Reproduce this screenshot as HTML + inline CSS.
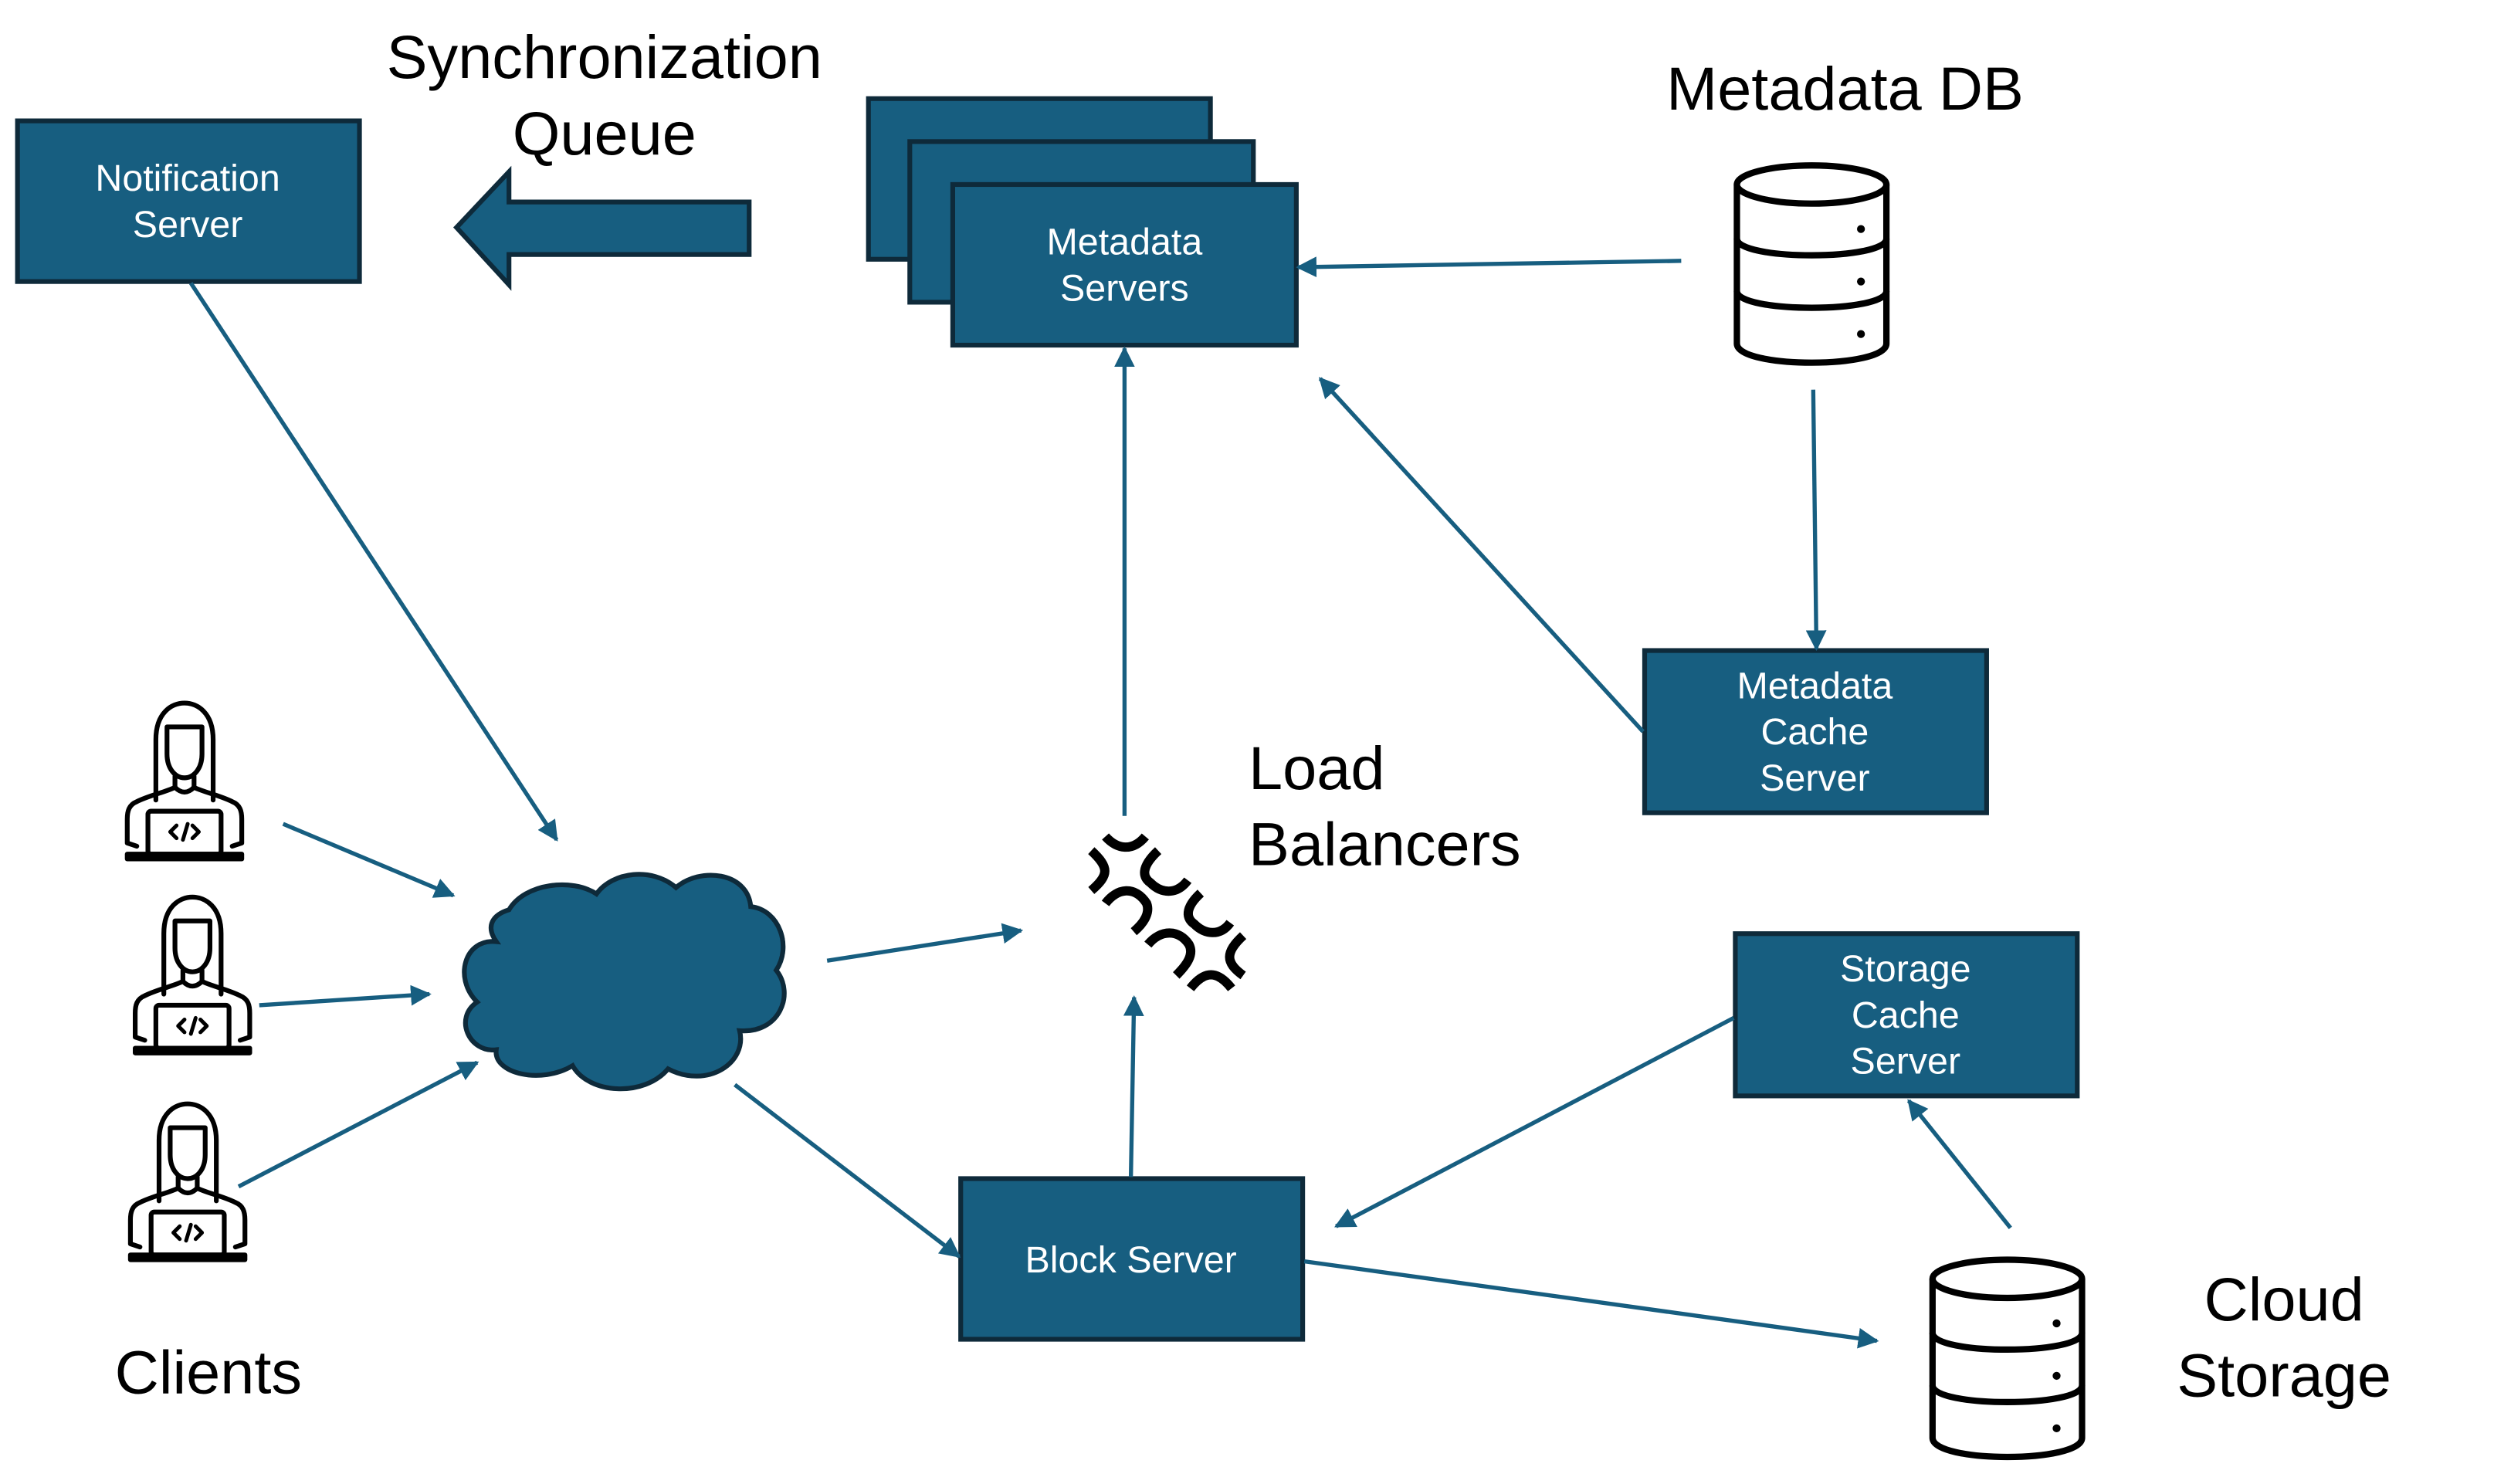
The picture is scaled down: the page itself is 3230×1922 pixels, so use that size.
<!DOCTYPE html>
<html><head><meta charset="utf-8"><style>
html,body{margin:0;padding:0;background:#fff}
svg{display:block}
text{font-family:"Liberation Sans",sans-serif}
</style></head><body>
<svg width="3230" height="1922" viewBox="0 0 1568 933" preserveAspectRatio="none" xmlns="http://www.w3.org/2000/svg">
<defs>
<marker id="a" viewBox="0 0 10 10" refX="9" refY="5" markerWidth="5" markerHeight="5" orient="auto" markerUnits="strokeWidth">
<path d="M0,0 L10,5 L0,10 z" fill="#175E80"/></marker>
<g id="p" fill="none" stroke="#000" stroke-width="3" stroke-linejoin="round" stroke-linecap="round">
<path d="M20,63 L20,25 C20,8 30,2 38,2 C46,2 56,8 56,25 L56,63"/>
<path d="M27,17 L49,17 L49,34 C49,43 44,49 38,49 C32,49 27,43 27,34 Z"/>
<path d="M32,48 L32,55 C26,58 16,60 8,64 C3,66 2,70 2,75 L2,90 L8,92"/>
<path d="M44,48 L44,55 C50,58 60,60 68,64 C73,66 74,70 74,75 L74,90 L68,92"/>
<path d="M32,55 C36,59 40,59 44,55"/>
<rect x="15" y="70" width="46" height="27" rx="2"/>
<path d="M2,97 L74,97 L74,100 L2,100 Z"/>
<path d="M33,79 L29,83 L33,87 M37,88 L40,78 M43,79 L47,83 L43,87" stroke-width="2.4"/>
</g>
<g id="db" fill="#fff" stroke="#000" stroke-width="4">
<path d="M2,14 L2,114 C2,130 96,130 96,114 L96,14"/>
<ellipse cx="49" cy="14" rx="47" ry="12"/>
<path d="M2,48 C2,62 96,62 96,48 M2,81 C2,95 96,95 96,81" fill="none"/>
<circle cx="80" cy="42" r="2.5" fill="#000" stroke="none"/>
<circle cx="80" cy="75" r="2.5" fill="#000" stroke="none"/>
<circle cx="80" cy="108" r="2.5" fill="#000" stroke="none"/>
</g>
</defs>

<g fill="#175E80" stroke="#0E2A3A" stroke-width="3">
<rect x="11" y="76" width="215" height="101"/>
<rect x="546" y="62" width="215" height="101"/>
<rect x="572" y="89" width="216" height="101"/>
<rect x="599" y="116" width="216" height="101"/>
<rect x="1034" y="409" width="215" height="102"/>
<rect x="1091" y="587" width="215" height="102"/>
<rect x="604" y="741" width="215" height="101"/>
</g>
<g fill="#fff" font-size="23.5" text-anchor="middle">
<text x="118" y="120">Notification</text><text x="118" y="149">Server</text>
<text x="707" y="160">Metadata</text><text x="707" y="189">Servers</text>
<text x="1141" y="439">Metadata</text><text x="1141" y="468">Cache</text><text x="1141" y="497">Server</text>
<text x="1198" y="617">Storage</text><text x="1198" y="646">Cache</text><text x="1198" y="675">Server</text>
<text x="711" y="800">Block Server</text>
</g>

<polygon points="287,143 320,108 320,127 471,127 471,160 320,160 320,179" fill="#175E80" stroke="#0E2A3A" stroke-width="3"/>

<g fill="#000" font-size="38.5" text-anchor="middle">
<text x="380" y="49">Synchronization</text><text x="380" y="97">Queue</text>
<text x="1160" y="69">Metadata DB</text>
<text x="131" y="876">Clients</text>
<text x="1436" y="830">Cloud</text><text x="1436" y="878">Storage</text>
<text x="785" y="496" text-anchor="start">Load</text><text x="785" y="544" text-anchor="start">Balancers</text>
</g>

<use href="#p" x="78" y="440"/>
<use href="#p" x="83" y="562"/>
<use href="#p" x="80" y="692"/>

<path d="M320,572 C330,555 360,552 375,562 C385,548 410,545 425,558 C440,545 470,548 472,570 C490,572 498,595 488,610 C500,625 490,650 465,648 C470,668 445,685 420,672 C405,690 370,688 360,670 C340,682 310,675 312,660 C295,662 285,640 300,630 C285,615 292,590 312,592 C305,582 310,575 320,572 Z" fill="#175E80" stroke="#0E2A3A" stroke-width="3"/>

<use href="#db" x="1090" y="102"/>
<use href="#db" x="1213" y="790"/>

<g transform="scale(0.48545) translate(1380,1050) scale(0.33333)" fill="none" stroke="#000" stroke-width="36">
<path d="M155,100 C200,150 260,160 310,100"/>
<path d="M100,155 C170,220 170,250 100,310"/>
<path d="M155,360 C200,300 270,290 315,360 C330,400 300,440 265,470"/>
<path d="M360,155 C290,220 300,260 330,280 C370,320 430,330 475,270"/>
<path d="M525,320 C460,380 470,420 500,440 C540,480 600,490 640,435"/>
<path d="M320,520 C370,460 440,460 480,520 C500,560 470,600 430,640"/>
<path d="M690,485 C620,550 620,590 690,640"/>
<path d="M485,690 C540,620 590,620 645,690"/>
</g>

<g stroke="#175E80" stroke-width="2.6" fill="none" marker-end="url(#a)">
<line x1="120" y1="178" x2="350" y2="528"/>
<line x1="178" y1="518" x2="285" y2="563"/>
<line x1="163" y1="632" x2="270" y2="625"/>
<line x1="150" y1="746" x2="300" y2="668"/>
<line x1="520" y1="604" x2="642" y2="585"/>
<line x1="462" y1="682" x2="603" y2="790"/>
<line x1="707" y1="513" x2="707" y2="219"/>
<line x1="711" y1="740" x2="713" y2="627"/>
<line x1="1057" y1="164" x2="816" y2="168"/>
<line x1="1140" y1="245" x2="1142" y2="408"/>
<line x1="1033" y1="460" x2="830" y2="238"/>
<line x1="1090" y1="640" x2="840" y2="771"/>
<line x1="1264" y1="772" x2="1200" y2="692"/>
<line x1="820" y1="793" x2="1180" y2="843"/>
</g>
</svg>
</body></html>
